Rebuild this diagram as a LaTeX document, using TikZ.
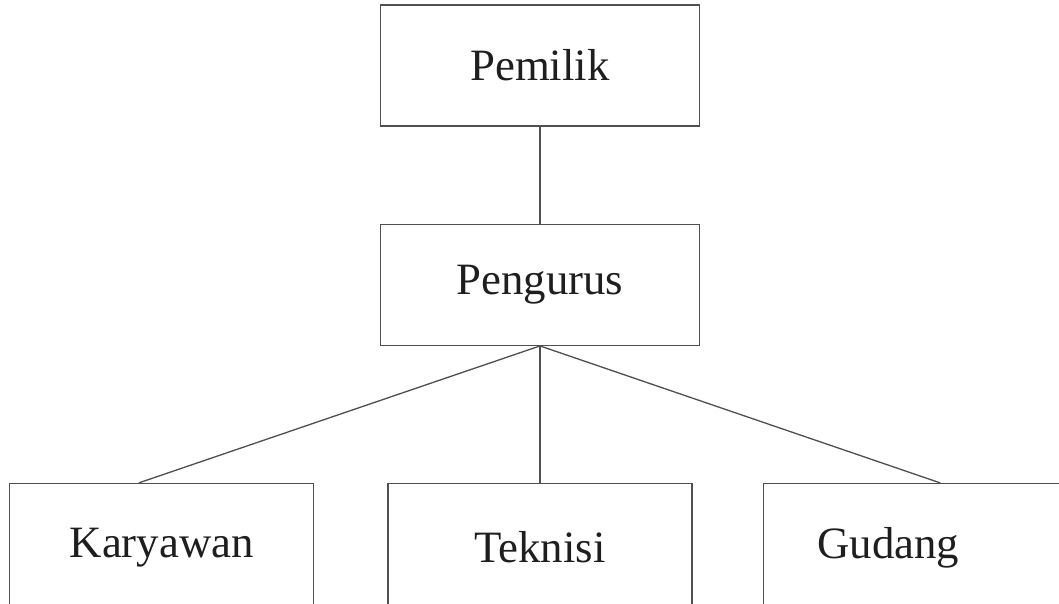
\documentclass[tikz,border=0pt]{standalone}
\usepackage{fontspec}
\setmainfont{Liberation Serif}
\usetikzlibrary{positioning, calc}
\definecolor{boxline}{RGB}{80,80,80}
\definecolor{boxtext}{RGB}{30,30,30}

\begin{document}
\begin{tikzpicture}[x=0.02cm, y=-0.02cm,
    unit/.style={draw=boxline, line width=0.75pt, text=boxtext,
      font=\fontsize{25.5}{30}\selectfont, inner sep=0pt},
    topunit/.style={unit, minimum width=6.37cm, minimum height=2.42cm},
    subunit/.style={unit, minimum width=6.08cm, minimum height=2.56cm},
    link/.style={draw=boxline, line width=0.75pt}]

    %% Frame of the picture
    \useasboundingbox (0,0) rectangle (1059,603);
    \clip (0,0) rectangle (1059,603);

    %% Upper levels
    \node[topunit] (pemilik) at (540,65.5) {Pemilik};
    \node[topunit, below=1.94cm of pemilik] (pengurus) {Pengurus};

    %% Lower level (boxes run past the bottom edge)
    \node[subunit, below=2.74cm of pengurus] (teknisi) {Teknisi};
    \node[subunit, left=1.46cm of teknisi] (karyawan) {Karyawan};
    \node[subunit, right=1.4cm of teknisi,
      label={[xshift=-0.54cm, text=boxtext,
        font=\fontsize{25.5}{30}\selectfont]center:Gudang}] (gudang) {};

    %% Connectors
    \draw[link] (pemilik.south) -- (pengurus.north);
    \draw[link] (pengurus.south) -- ($(karyawan.north)+(-23,0)$);
    \draw[link] (pengurus.south) -- (teknisi.north);
    \draw[link] (pengurus.south) -- ($(gudang.north)+(25,0)$);
\end{tikzpicture}
\end{document}
